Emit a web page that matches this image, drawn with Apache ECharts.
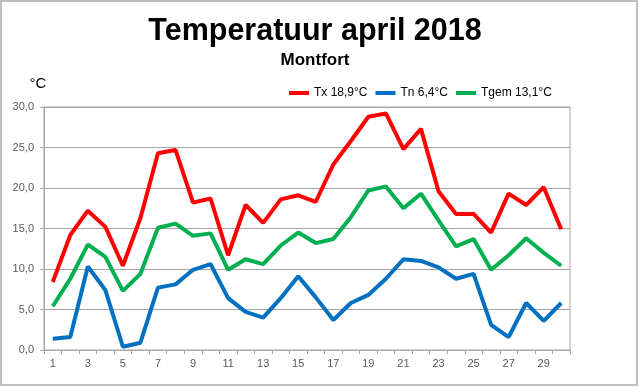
<!DOCTYPE html>
<html>
<head>
<meta charset="utf-8">
<script src="https://cdn.jsdelivr.net/npm/echarts@6/dist/echarts.min.js"></script>
<style>html,body{margin:0;padding:0;background:#fff}#c{width:640px;height:387px}</style>
</head>
<body>
<div id="c"></div>
<script>
const days = [];
for (let d = 1; d <= 30; d++) days.push(String(d));
const yTicks = [0, 5, 10, 15, 20, 25, 30];
const seriesNames = ['Tx 18,9°C', 'Tn 6,4°C', 'Tgem 13,1°C'];
const tx = [8.4, 14.2, 17.2, 15.2, 10.4, 16.3, 24.3, 24.7, 18.2, 18.7,
            11.7, 17.9, 15.7, 18.6, 19.1, 18.3, 22.9, 25.8, 28.8, 29.2,
            24.8, 27.3, 19.6, 16.8, 16.8, 14.5, 19.3, 17.9, 20.1, 14.9];
const tn = [1.4, 1.6, 10.3, 7.4, 0.4, 0.9, 7.7, 8.1, 9.9, 10.6,
            6.4, 4.7, 4.0, 6.4, 9.1, 6.5, 3.7, 5.8, 6.8, 8.8,
            11.2, 11.0, 10.2, 8.8, 9.4, 3.1, 1.6, 5.8, 3.6, 5.8];
const tgem = [5.4, 8.8, 13.0, 11.5, 7.3, 9.4, 15.1, 15.6, 14.1, 14.4,
              9.9, 11.2, 10.6, 12.9, 14.5, 13.2, 13.7, 16.4, 19.7, 20.2,
              17.5, 19.3, 16.0, 12.8, 13.7, 9.9, 11.7, 13.8, 12.0, 10.4];
const colors = ['#ff0000', '#0070c0', '#00b050'];
const font = '"Liberation Sans", Arial, sans-serif';
const gridColor = '#a6a6a6';

const chart = echarts.init(document.getElementById('c'), null, {renderer: 'canvas'});
chart.setOption({
  animation: false,
  backgroundColor: '#fff',
  title: {
    text: 'Temperatuur april 2018',
    subtext: 'Montfort',
    left: 310,
    textAlign: 'center',
    top: 11,
    itemGap: 5,
    textStyle: {fontFamily: font, fontSize: 30.5, fontWeight: 'bold', color: '#000'},
    subtextStyle: {fontFamily: font, fontSize: 17, fontWeight: 'bold', color: '#000'}
  },
  legend: {
    data: seriesNames,
    left: 284,
    top: 82,
    itemGap: 8,
    itemWidth: 20,
    itemHeight: 4,
    icon: 'rect',
    textStyle: {fontFamily: font, fontSize: 12, color: '#000'}
  },
  graphic: [{
    type: 'rect',
    shape: {x: 1, y: 1, width: 636, height: 384},
    style: {fill: null, stroke: '#bfbfbf', lineWidth: 2},
    silent: true
  }],
  grid: {
    left: 44, right: 70, top: 107, bottom: 37,
    show: true, borderColor: gridColor, borderWidth: 1, backgroundColor: 'transparent'
  },
  xAxis: {
    type: 'category',
    data: days,
    boundaryGap: true,
    axisLine: {lineStyle: {color: gridColor}},
    axisTick: {show: true, interval: 0, length: 4, lineStyle: {color: gridColor}},
    axisLabel: {interval: 1, margin: 8, fontFamily: font, fontSize: 11, color: '#595959'},
    splitLine: {show: false}
  },
  yAxis: {
    type: 'value',
    min: yTicks[0],
    max: yTicks[yTicks.length - 1],
    interval: 5,
    name: '°C',
    nameLocation: 'end',
    nameGap: 16,
    nameTextStyle: {fontFamily: font, fontSize: 15, color: '#000', align: 'center', padding: [0, 12, 0, 0]},
    axisLine: {show: true, lineStyle: {color: gridColor}},
    axisTick: {show: true, length: 4, lineStyle: {color: gridColor}},
    axisLabel: {margin: 10, fontFamily: font, fontSize: 11, color: '#595959',
      formatter: v => v.toFixed(1).replace('.', ',')},
    splitLine: {show: true, lineStyle: {color: gridColor, width: 1}}
  },
  series: [
    {name: seriesNames[0], type: 'line', data: tx, symbol: 'none', lineStyle: {width: 4, color: colors[0]}, itemStyle: {color: colors[0]}},
    {name: seriesNames[1], type: 'line', data: tn, symbol: 'none', lineStyle: {width: 4, color: colors[1]}, itemStyle: {color: colors[1]}},
    {name: seriesNames[2], type: 'line', data: tgem, symbol: 'none', lineStyle: {width: 4, color: colors[2]}, itemStyle: {color: colors[2]}}
  ]
});
</script>
</body>
</html>
